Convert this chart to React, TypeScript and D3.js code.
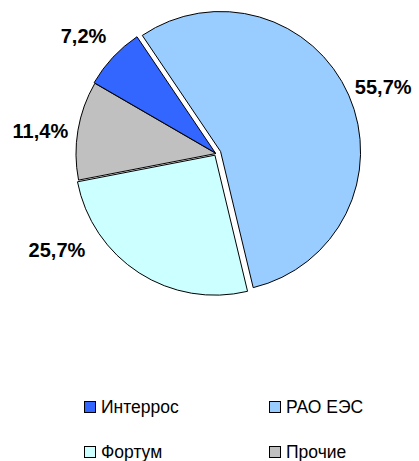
import * as d3 from "d3";

const categories = ["РАО ЕЭС", "Фортум", "Прочие", "Интеррос"];
const shares = [55.7, 25.7, 11.4, 7.2];
const colors = ["#99CCFF", "#CCFFFF", "#C0C0C0", "#3366FF"];
const explode = [5, 2, 0, 1];
// label placement tweaks (deg, radius) to sit where the original tool put them
const labelNudge = [2, 26, -2.4, -1.5];
const labelRadius = [180, 186, 177, 177];

const legendOrder = ["Интеррос", "РАО ЕЭС", "Фортум", "Прочие"];

const width = 419;
const height = 461;
const cx = 216;
const cy = 153.5;
const radius = 140;

const fmt = (v: number) => v.toFixed(1).replace(".", ",") + "%";

export default function App() {
  const rad = (deg: number) => (deg * Math.PI) / 180;

  const pie = d3
    .pie<number>()
    .sort(null)
    .startAngle(rad(-34))
    .endAngle(rad(326));
  const arcs = pie(shares);

  const arc = d3.arc<d3.PieArcDatum<number>>().innerRadius(0).outerRadius(radius);

  const legendX = d3.scalePoint<number>().domain([0, 1]).range([84, 269]);
  const legendY = d3.scalePoint<number>().domain([0, 1]).range([401, 446]);

  return (
    <svg
      width={width}
      height={height}
      style={{ position: "absolute", left: 0, top: 0, display: "block", background: "#fff" }}
      fontFamily="Arial, 'Liberation Sans', sans-serif"
    >
      <g transform={`translate(${cx},${cy})`}>
        {arcs.map((a, i) => {
          const mid = (a.startAngle + a.endAngle) / 2;
          const dx = Math.sin(mid) * explode[i];
          const dy = -Math.cos(mid) * explode[i];
          return (
            <path
              key={categories[i]}
              d={arc(a) ?? ""}
              transform={`translate(${dx},${dy})`}
              fill={colors[i]}
              stroke="#000"
              strokeWidth={1}
              strokeLinejoin="round"
            />
          );
        })}
        {arcs.map((a, i) => {
          const ang = (a.startAngle + a.endAngle) / 2 + rad(labelNudge[i]);
          const x = Math.sin(ang) * labelRadius[i];
          const y = -Math.cos(ang) * labelRadius[i];
          return (
            <text
              key={"l" + i}
              x={x}
              y={y + 7}
              textAnchor="middle"
              fontSize={20}
              fontWeight="bold"
              fill="#000"
            >
              {fmt(shares[i])}
            </text>
          );
        })}
      </g>
      <g>
        {legendOrder.map((name, k) => {
          const i = categories.indexOf(name);
          const x = legendX(k % 2) ?? 0;
          const y = legendY(Math.floor(k / 2)) ?? 0;
          return (
            <g key={name} transform={`translate(${x},${y})`}>
              <rect x={0.5} y={0.5} width={11} height={11} fill={colors[i]} stroke="#000" strokeWidth={1} />
              <text x={17} y={12} fontSize={17.5} fill="#000">
                {name}
              </text>
            </g>
          );
        })}
      </g>
    </svg>
  );
}
